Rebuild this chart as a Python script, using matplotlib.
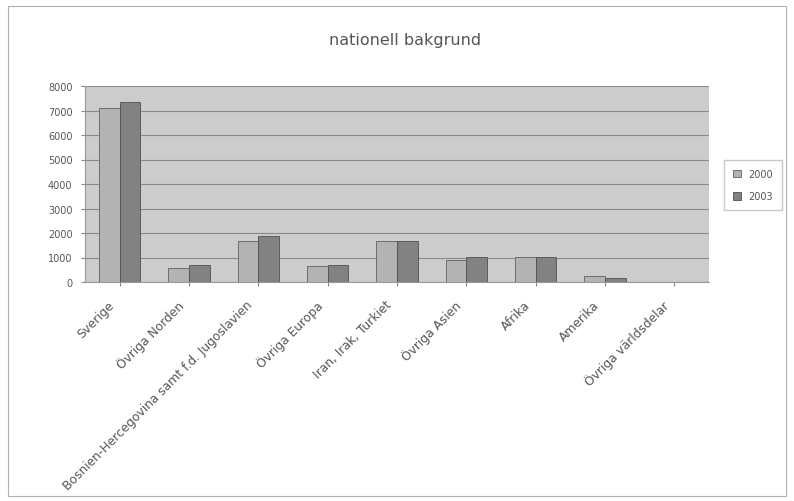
import matplotlib
matplotlib.use("Agg")
import matplotlib.pyplot as plt
import matplotlib.transforms as mtransforms
import numpy as np
from matplotlib.patches import Rectangle

categories = ["Sverige", "Övriga Norden", "Bosnien-Hercegovina samt f.d. Jugoslavien",
              "Övriga Europa", "Iran, Irak, Turkiet", "Övriga Asien", "Afrika",
              "Amerika", "Övriga världsdelar"]
series_names = ["2000", "2003"]
values_2000 = [7090, 570, 1660, 670, 1690, 910, 1010, 260, 0]
values_2003 = [7360, 710, 1870, 680, 1690, 1010, 1010, 160, 0]
yticks = [0, 1000, 2000, 3000, 4000, 5000, 6000, 7000, 8000]

fig = plt.figure(figsize=(7.94, 5.02), dpi=100)
fig.patch.set_facecolor("white")
fig.add_artist(Rectangle((8/794, 5/502), 778/794, 490/502, transform=fig.transFigure,
                         fill=False, edgecolor="#b0b0b0", linewidth=0.8))

ax = fig.add_axes([85/794, 1-283/502, 624/794, 196/502])
ax.set_facecolor("#cccccc")
x = np.arange(len(categories))
w = 0.3
ax.bar(x - w/2, values_2000, w, color="#b3b3b3", edgecolor="#606060", linewidth=0.6,
       label=series_names[0], zorder=3)
ax.bar(x + w/2, values_2003, w, color="#828282", edgecolor="#505050", linewidth=0.6,
       label=series_names[1], zorder=3)
ax.set_xlim(-0.5, len(categories) - 0.5)
ax.set_ylim(0, 8000)
ax.set_yticks(yticks)
ax.set_yticklabels([str(t) for t in yticks], fontsize=7, color="#555555")
ax.yaxis.grid(True, color="#8a8a8a", linewidth=0.8, zorder=0)
ax.set_xticks(x)
ax.set_xticklabels(categories, rotation=45, ha="right", rotation_mode="anchor",
                   fontsize=8.8, color="#555555")
ax.tick_params(axis="x", length=3, color="#888888", pad=8.5)
ax.tick_params(axis="y", length=3, color="#888888", pad=6)
offset = mtransforms.ScaledTranslation(-12/100, 0, fig.dpi_scale_trans)
for lbl in ax.get_xticklabels():
    lbl.set_transform(lbl.get_transform() + offset)
for s in ["top", "right"]:
    ax.spines[s].set_visible(False)
ax.spines["left"].set_color("#999999")
ax.spines["bottom"].set_color("#999999")

fig.text(405/794, 1-40/502, "nationell bakgrund", ha="center", va="center",
         fontsize=11.5, color="#555555")

leg = fig.legend(loc="center", bbox_to_anchor=(753/794, 1-186/502), fontsize=7,
                 frameon=True, fancybox=False, edgecolor="#bbbbbb",
                 handlelength=0.8, handleheight=0.8, labelspacing=1.3,
                 borderpad=0.9)
for t in leg.get_texts():
    t.set_color("#555555")

fig.savefig("out.png", dpi=100)
